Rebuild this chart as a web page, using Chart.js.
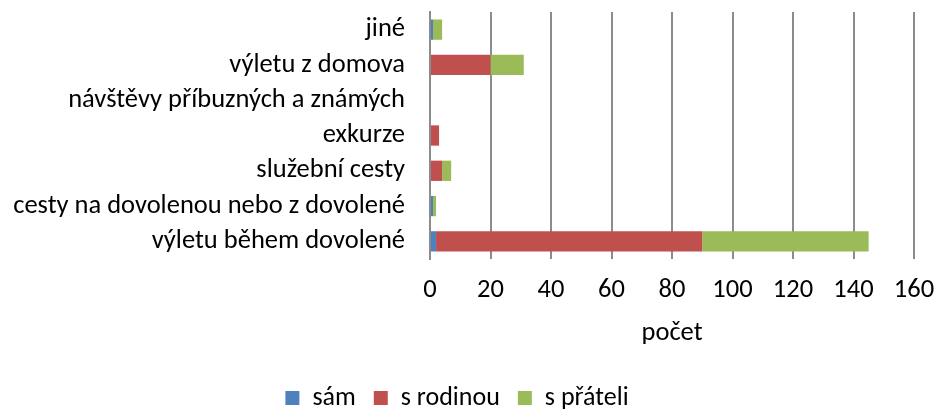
<!DOCTYPE html>
<html>
<head>
<meta charset="utf-8">
<script src="https://cdn.jsdelivr.net/npm/chart.js@4/dist/chart.umd.min.js"></script>
<style>
  html, body { margin: 0; padding: 0; background: #fff; }
  #wrap { width: 936px; height: 412px; position: relative; }
</style>
</head>
<body>
<div id="wrap"><canvas id="myChart" width="936" height="412"></canvas></div>
<script>
    'use strict';

    // categories, top to bottom
    const categories = [
        'jiné',
        'výletu z domova',
        'návštěvy příbuzných a známých',
        'exkurze',
        'služební cesty',
        'cesty na dovolenou nebo z dovolené',
        'výletu během dovolené'
    ];
    const samValues = [1, 0, 0, 0, 0, 1, 2];
    const rodinouValues = [0, 20, 0, 3, 4, 0, 88];
    const prateliValues = [3, 11, 0, 0, 3, 1, 55];
    const seriesNames = ['sám', 's rodinou', 's přáteli'];
    const xTicks = [0, 20, 40, 60, 80, 100, 120, 140, 160];

    const fontFamily = "Carlito, 'Noto Sans', 'Open Sans', sans-serif";
    const fontSize = 26.5;
    const gridGray = '#8c8c8c';

    // small nudge of the legend row after layout
    const legendNudge = {
        id: 'legendNudge',
        afterLayout: function(chart) {
            if (chart.legend) {
                chart.legend.top += 9;
                chart.legend.bottom += 9;
            }
        }
    };

    const ctx = document.getElementById('myChart');
    const myChart = new Chart(ctx, {
        type: 'bar',
        data: {
            labels: categories,
            datasets: [
                { label: seriesNames[0], data: samValues, backgroundColor: '#4F81BD' },
                { label: seriesNames[1], data: rodinouValues, backgroundColor: '#C0504D' },
                { label: seriesNames[2], data: prateliValues, backgroundColor: '#9BBB59' }
            ]
        },
        plugins: [legendNudge],
        options: {
            indexAxis: 'y',
            responsive: false,
            animation: false,
            datasets: {
                bar: { categoryPercentage: 1, barPercentage: 0.575 }
            },
            layout: { padding: { left: 0, right: 22, top: 12, bottom: 0 } },
            plugins: {
                tooltip: { enabled: false },
                legend: {
                    position: 'bottom',
                    labels: {
                        boxWidth: 14,
                        boxHeight: 14,
                        padding: 18,
                        color: '#000',
                        font: { family: fontFamily, size: 26 }
                    }
                }
            },
            scales: {
                x: {
                    stacked: true,
                    min: 0,
                    max: 160,
                    afterBuildTicks: function(scale) {
                        scale.ticks = xTicks.map(v => ({ value: v }));
                    },
                    afterFit: function(scale) {
                        scale.height = 99;
                        scale.paddingLeft = 0;
                        scale.paddingRight = 0;
                    },
                    grid: {
                        color: gridGray,
                        lineWidth: 2,
                        drawTicks: false
                    },
                    border: { display: false },
                    ticks: {
                        padding: 15,
                        color: '#000',
                        font: { family: fontFamily, size: fontSize }
                    },
                    title: {
                        display: true,
                        text: 'počet',
                        color: '#000',
                        padding: { top: 0, bottom: 9 },
                        font: { family: fontFamily, size: fontSize }
                    }
                },
                y: {
                    stacked: true,
                    afterFit: function(scale) {
                        scale.width = 430;
                        scale.paddingTop = 0;
                        scale.paddingBottom = 0;
                    },
                    grid: { display: false, drawTicks: false },
                    border: { display: true, color: gridGray, width: 2 },
                    ticks: {
                        autoSkip: false,
                        padding: 25,
                        color: '#000',
                        font: { family: fontFamily, size: fontSize }
                    }
                }
            }
        }
    });
</script>
</body>
</html>
